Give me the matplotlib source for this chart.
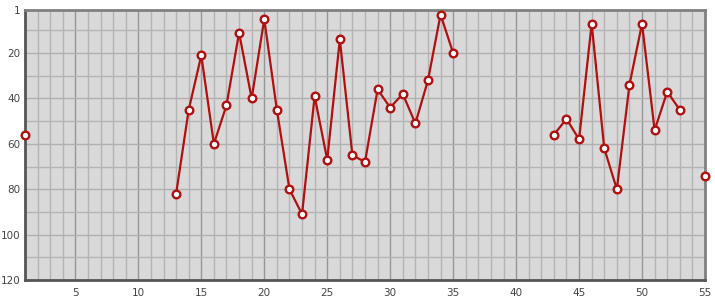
import numpy as np
import matplotlib
matplotlib.use("Agg")
import matplotlib.pyplot as plt
from matplotlib.ticker import MultipleLocator, FixedLocator

x_values = list(range(1, 56))
nan = np.nan
ranks = [56, nan, nan, nan, nan, nan, nan, nan, nan, nan, nan, nan,
         82, 45, 21, 60, 43, 11, 40, 5, 45, 80, 91, 39, 67, 14, 65, 68,
         36, 44, 38, 51, 32, 3, 20,
         nan, nan, nan, nan, nan, nan, nan,
         56, 49, 58, 7, 62, 80, 34, 7, 54, 37, 45, nan, 74]
x_ticks = [5, 10, 15, 20, 25, 30, 35, 40, 45, 50, 55]
y_ticks = [1, 20, 40, 60, 80, 100, 120]

fig = plt.figure(figsize=(7.15, 3.0), dpi=100)
ax = fig.add_axes([25/715, 20/300, 680/715, 270/300])
ax.set_facecolor("#d9d9d9")

ax.set_xlim(1, 55)
ax.set_ylim(120, 1)

ax.xaxis.set_major_locator(FixedLocator(x_ticks))
ax.xaxis.set_minor_locator(MultipleLocator(1))
ax.yaxis.set_major_locator(FixedLocator(y_ticks))
ax.yaxis.set_minor_locator(FixedLocator([10, 30, 50, 70, 90, 110]))

ax.grid(which="minor", color="#b4b4b4", linewidth=1.0)
ax.grid(which="major", axis="x", color="#969696", linewidth=1.0)
ax.grid(which="major", axis="y", color="#b0b0b0", linewidth=1.0)
ax.set_axisbelow(True)

ax.tick_params(which="both", length=0)
ax.tick_params(axis="x", pad=6, labelsize=7.5, labelcolor="#444444")
ax.tick_params(axis="y", pad=3, labelsize=7.5, labelcolor="#444444")

for side in ["left", "bottom"]:
    ax.spines[side].set_color("#555555")
    ax.spines[side].set_linewidth(2)
for side in ["top", "right"]:
    ax.spines[side].set_color("#808080")
    ax.spines[side].set_linewidth(2)

ax.plot(x_values, ranks, color="#b01010", linewidth=1.6,
        marker="o", markersize=5.5, markerfacecolor="white",
        markeredgecolor="#b01010", markeredgewidth=1.7, clip_on=False, zorder=5)

fig.savefig("out.png", dpi=100)
